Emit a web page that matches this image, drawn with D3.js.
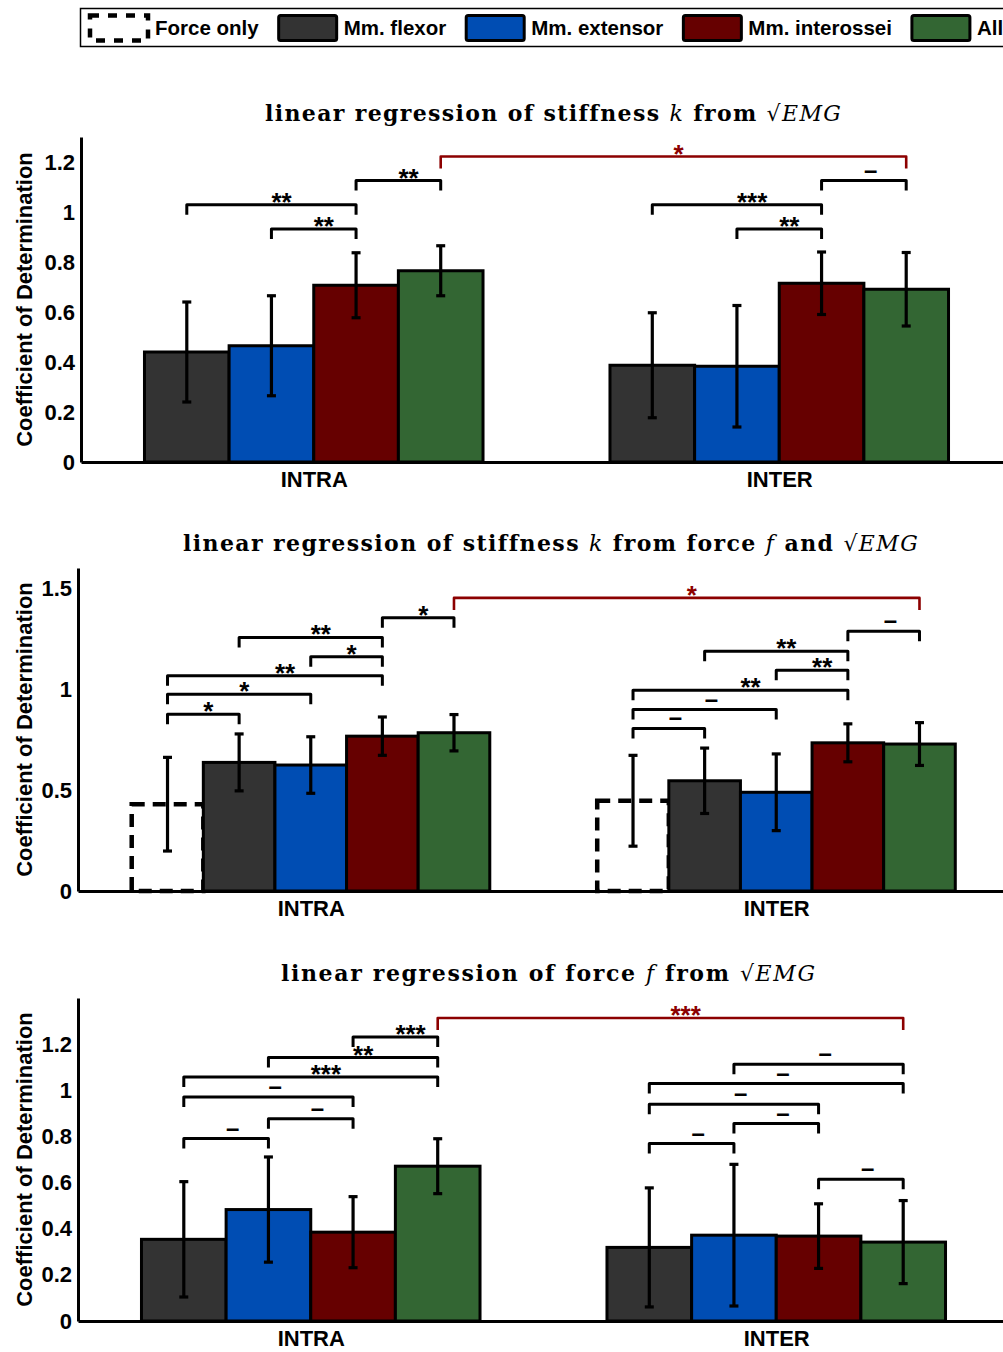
<!DOCTYPE html>
<html>
<head>
<meta charset="utf-8">
<script src="https://cdn.jsdelivr.net/npm/d3@7"></script>
<style>
  body { margin: 0; background: #fff; }
  svg text { font-family: "Liberation Sans", Arial, sans-serif; font-weight: bold; }
</style>
</head>
<body>
<svg id="chart" width="1003" height="1352"></svg>
<script>
// ---- data ----
const groups = ["INTRA", "INTER"];
const seriesNames = ["Force only", "Mm. flexor", "Mm. extensor", "Mm. interossei", "All"];
const yLabel = "Coefficient of Determination";

// panel 1: stiffness k from sqrt(EMG)
const kEmgSeries = ["Mm. flexor", "Mm. extensor", "Mm. interossei", "All"];
const kEmgMean = [[0.44, 0.465, 0.707, 0.765], [0.387, 0.383, 0.715, 0.691]];
const kEmgErr = [[0.20, 0.20, 0.13, 0.10], [0.21, 0.243, 0.125, 0.147]];
const kEmgTicks = [0, 0.2, 0.4, 0.6, 0.8, 1, 1.2];
const kEmgSig = [
  ["INTRA", "Mm. flexor", "Mm. interossei", 1.029, "**"],
  ["INTRA", "Mm. extensor", "Mm. interossei", 0.932, "**"],
  ["INTRA", "Mm. interossei", "All", 1.126, "**"],
  ["INTER", "Mm. flexor", "Mm. interossei", 1.029, "***"],
  ["INTER", "Mm. extensor", "Mm. interossei", 0.932, "**"],
  ["INTER", "Mm. interossei", "All", 1.126, "–"]
];
const kEmgCross = [1.222, "*"];
const kEmgTitle = [["linear regression of stiffness ", "b"], ["k", "i"], [" from ", "b"], ["√", "n"], ["EMG", "i"]];

// panel 2: stiffness k from force f and sqrt(EMG)
const kForceSeries = ["Force only", "Mm. flexor", "Mm. extensor", "Mm. interossei", "All"];
const kForceMean = [[0.43, 0.637, 0.624, 0.767, 0.784], [0.447, 0.546, 0.489, 0.734, 0.728]];
const kForceErr = [[0.232, 0.141, 0.14, 0.095, 0.09], [0.225, 0.162, 0.19, 0.094, 0.106]];
const kForceTicks = [0, 0.5, 1, 1.5];
const kForceSig = [
  ["INTRA", "Force only", "Mm. flexor", 0.876, "*"],
  ["INTRA", "Force only", "Mm. extensor", 0.974, "*"],
  ["INTRA", "Force only", "Mm. interossei", 1.066, "**"],
  ["INTRA", "Mm. extensor", "Mm. interossei", 1.16, "*"],
  ["INTRA", "Mm. flexor", "Mm. interossei", 1.256, "**"],
  ["INTRA", "Mm. interossei", "All", 1.353, "*"],
  ["INTER", "Force only", "Mm. flexor", 0.805, "–"],
  ["INTER", "Force only", "Mm. extensor", 0.899, "–"],
  ["INTER", "Force only", "Mm. interossei", 0.995, "**"],
  ["INTER", "Mm. extensor", "Mm. interossei", 1.094, "**"],
  ["INTER", "Mm. flexor", "Mm. interossei", 1.188, "**"],
  ["INTER", "Mm. interossei", "All", 1.287, "–"]
];
const kForceCross = [1.452, "*"];
const kForceTitle = [["linear regression of stiffness ", "b"], ["k", "i"], [" from force ", "b"], ["f", "i"], [" and ", "b"], ["√", "n"], ["EMG", "i"]];

// panel 3: force f from sqrt(EMG)
const fEmgSeries = ["Mm. flexor", "Mm. extensor", "Mm. interossei", "All"];
const fEmgMean = [[0.354, 0.483, 0.385, 0.671], [0.319, 0.372, 0.368, 0.342]];
const fEmgErr = [[0.25, 0.228, 0.154, 0.119], [0.258, 0.307, 0.14, 0.18]];
const fEmgTicks = [0, 0.2, 0.4, 0.6, 0.8, 1, 1.2];
const fEmgSig = [
  ["INTRA", "Mm. flexor", "Mm. extensor", 0.791, "–"],
  ["INTRA", "Mm. extensor", "Mm. interossei", 0.877, "–"],
  ["INTRA", "Mm. flexor", "Mm. interossei", 0.971, "–"],
  ["INTRA", "Mm. flexor", "All", 1.058, "***"],
  ["INTRA", "Mm. extensor", "All", 1.142, "**"],
  ["INTRA", "Mm. interossei", "All", 1.231, "***"],
  ["INTER", "Mm. interossei", "All", 0.614, "–"],
  ["INTER", "Mm. flexor", "Mm. extensor", 0.769, "–"],
  ["INTER", "Mm. extensor", "Mm. interossei", 0.856, "–"],
  ["INTER", "Mm. flexor", "Mm. interossei", 0.939, "–"],
  ["INTER", "Mm. flexor", "All", 1.029, "–"],
  ["INTER", "Mm. extensor", "All", 1.113, "–"]
];
const fEmgCross = [1.313, "***"];
const fEmgTitle = [["linear regression of force ", "b"], ["f", "i"], [" from ", "b"], ["√", "n"], ["EMG", "i"]];

// ---- styles ----
const colors = {
  "Force only": "#ffffff",
  "Mm. flexor": "#333333",
  "Mm. extensor": "#004db3",
  "Mm. interossei": "#660000",
  "All": "#336633"
};
const crossColor = "#8c0000";

const svg = d3.select("#chart");
svg.append("rect").attr("width", 1003).attr("height", 1352).attr("fill", "#fff");

// panel layout (pixels)
const panels = [
  { series: kEmgSeries, mean: kEmgMean, err: kEmgErr, ticks: kEmgTicks, sig: kEmgSig, cross: kEmgCross, title: kEmgTitle,
    left: 81, top: 137, zero: 462, yMax: 1.3, titleX: 265, titleW: 575, titleY: 121 },
  { series: kForceSeries, mean: kForceMean, err: kForceErr, ticks: kForceTicks, sig: kForceSig, cross: kForceCross, title: kForceTitle,
    left: 78, top: 568, zero: 891, yMax: 1.6, titleX: 183, titleW: 734, titleY: 551 },
  { series: fEmgSeries, mean: fEmgMean, err: fEmgErr, ticks: fEmgTicks, sig: fEmgSig, cross: fEmgCross, title: fEmgTitle,
    left: 78, top: 998, zero: 1321, yMax: 1.4, titleX: 281, titleW: 534, titleY: 981 }
];

panels.forEach(p => drawPanel(p));
drawLegend();

function drawPanel(p) {
  const g = svg.append("g");
  const x = d3.scaleLinear().domain([0.5, 2.5]).range([p.left, p.left + 931]);
  const y = d3.scaleLinear().domain([0, p.yMax]).range([p.zero, p.top]);
  const n = p.series.length;
  const gw = n / (n + 1.5);   // matlab grouped bar width
  const inner = d3.scaleBand().domain(p.series).range([-gw / 2, gw / 2]);
  const bw = x(1 + inner.bandwidth()) - x(1);
  const center = (grp, s) => x(groups.indexOf(grp) + 1 + inner(s) + inner.bandwidth() / 2);

  // flatten for data joins
  const rows = [];
  groups.forEach((grp, gi) => p.series.forEach((s, si) => {
    rows.push({ grp, s, mean: p.mean[gi][si], err: p.err[gi][si] });
  }));

  // bars
  g.selectAll("rect.bar").data(rows).join("rect")
    .attr("class", "bar")
    .attr("x", d => center(d.grp, d.s) - bw / 2)
    .attr("y", d => y(d.mean))
    .attr("width", bw)
    .attr("height", d => y(0) - y(d.mean))
    .attr("fill", d => colors[d.s])
    .attr("stroke", "#000")
    .attr("stroke-width", d => d.s === "Force only" ? 4.5 : 3)
    .attr("stroke-dasharray", d => d.s === "Force only" ? "13,8" : null);

  // error bars
  const eb = g.selectAll("g.err").data(rows).join("g").attr("class", "err")
    .attr("stroke", "#000").attr("stroke-width", 3.2);
  eb.append("line")
    .attr("x1", d => center(d.grp, d.s)).attr("x2", d => center(d.grp, d.s))
    .attr("y1", d => y(d.mean - d.err)).attr("y2", d => y(d.mean + d.err));
  eb.append("line")
    .attr("x1", d => center(d.grp, d.s) - 4.5).attr("x2", d => center(d.grp, d.s) + 4.5)
    .attr("y1", d => y(d.mean + d.err)).attr("y2", d => y(d.mean + d.err));
  eb.append("line")
    .attr("x1", d => center(d.grp, d.s) - 4.5).attr("x2", d => center(d.grp, d.s) + 4.5)
    .attr("y1", d => y(d.mean - d.err)).attr("y2", d => y(d.mean - d.err));

  // axes
  const ya = g.append("g").attr("transform", `translate(${p.left},0)`)
    .call(d3.axisLeft(y).tickValues(p.ticks).tickSize(0).tickSizeOuter(0).tickPadding(6).tickFormat(d3.format("~g")));
  const xa = g.append("g").attr("transform", `translate(0,${p.zero})`)
    .call(d3.axisBottom(x).tickValues([1, 2]).tickSize(0).tickSizeOuter(0).tickPadding(9).tickFormat((d, i) => groups[i]));
  [ya, xa].forEach(a => {
    a.select(".domain").attr("stroke", "#000").attr("stroke-width", 3);
    a.selectAll("text").attr("font-family", null).attr("font-size", 22).attr("fill", "#000");
  });

  // y label
  g.append("text")
    .attr("transform", `translate(32,${(p.zero + p.top) / 2}) rotate(-90)`)
    .attr("text-anchor", "middle")
    .attr("font-size", 22)
    .text(yLabel);

  // significance brackets
  const brackets = p.sig.map(([grp, a, b, lvl, lab]) => ({ xa: center(grp, a), xb: center(grp, b), ly: y(lvl), lab, col: "#000", leg: 10, sw: 3 }));
  const last = p.series[p.series.length - 1];
  brackets.push({ xa: center("INTRA", last), xb: center("INTER", last), ly: y(p.cross[0]), lab: p.cross[1], col: crossColor, leg: 12, sw: 2.6 });

  g.selectAll("path.sig").data(brackets).join("path")
    .attr("class", "sig")
    .attr("fill", "none")
    .attr("stroke", d => d.col)
    .attr("stroke-width", d => d.sw)
    .attr("stroke-linejoin", "round")
    .attr("d", d => `M${d.xa},${d.ly + d.leg}V${d.ly}H${d.xb}V${d.ly + d.leg}`);
  g.selectAll("text.sig").data(brackets).join("text")
    .attr("class", "sig")
    .attr("x", d => (d.xa + d.xb) / 2)
    .attr("y", d => d.ly + (d.lab === "–" ? -3 : 6))
    .attr("fill", d => d.col)
    .attr("font-size", d => d.lab === "–" ? 24 : 26)
    .text(d => d.lab);

  // title (LaTeX-like serif)
  const t = g.append("text")
    .attr("x", p.titleX).attr("y", p.titleY)
    .attr("font-size", 22)
    .style("font-family", '"DejaVu Serif", "Liberation Serif", serif');
  p.title.forEach(([s, k]) => {
    t.append("tspan")
      .attr("font-style", k === "i" ? "italic" : "normal")
      .attr("font-weight", k === "b" ? "bold" : "normal")
      .text(s);
  });
  const nat = t.node().getComputedTextLength();
  const nch = p.title.map(d => d[0]).join("").length;
  t.attr("letter-spacing", (p.titleW - nat) / (nch - 1));
}

function drawLegend() {
  const lg = svg.append("g");
  lg.append("rect")
    .attr("x", 80.5).attr("y", 8.5).attr("width", 1000).attr("height", 38)
    .attr("fill", "#fff").attr("stroke", "#000").attr("stroke-width", 1.5);
  let cx = 90;
  seriesNames.forEach(s => {
    const dashed = s === "Force only";
    lg.append("rect")
      .attr("x", cx).attr("y", 15.5).attr("width", 58).attr("height", 25)
      .attr("rx", dashed ? 0 : 2)
      .attr("fill", colors[s]).attr("stroke", "#000")
      .attr("stroke-width", dashed ? 4.5 : 3)
      .attr("stroke-dasharray", dashed ? "9,9" : null);
    const tx = lg.append("text")
      .attr("x", cx + 65).attr("y", 35)
      .attr("font-size", 20.5)
      .text(s);
    cx += 65 + tx.node().getComputedTextLength() + 20;
  });
}
</script>
</body>
</html>
